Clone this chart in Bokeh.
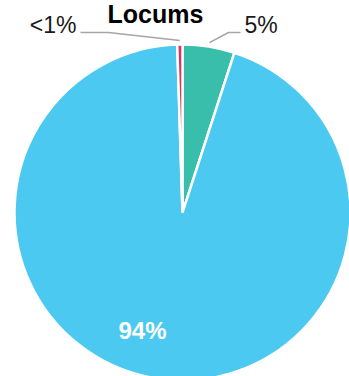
import math
from bokeh.plotting import figure
from bokeh.models import Range1d, ColumnDataSource
from bokeh.embed import file_html
from bokeh.resources import INLINE
from bokeh.core.properties import value

# ---- data ----
title_text = "Locums"
slice_names = ["5%", "94%", "<1%"]
slice_shares = [5.0, 94.5, 0.5]
slice_colors = ["#38BEAA", "#4BC9F0", "#DD3158"]

# ---- layout (screen pixel space, y measured downward) ----
W, H = 349, 376
CX, CY, R = 182, 212, 168
FONT = "Liberation Sans"


def sy(y):
    # screen y (downward) -> data y (upward)
    return H - y


p = figure(width=W, height=H, output_backend="svg", toolbar_location=None,
           x_range=Range1d(0, W), y_range=Range1d(0, H), min_border=0)
p.axis.visible = False
p.grid.visible = False
p.outline_line_color = None
p.background_fill_color = "white"
p.border_fill_color = "white"

total = sum(slice_shares)
starts, ends, mids = [], [], []
a = math.pi / 2
for s in slice_shares:
    e = a - s / total * 2 * math.pi
    starts.append(a)
    ends.append(e)
    mids.append((a + e) / 2)
    a = e

src = ColumnDataSource(dict(start=starts, end=ends, color=slice_colors, name=slice_names))
p.wedge(x=CX, y=sy(CY), radius=R, start_angle="start", end_angle="end",
        direction="clock", fill_color="color", line_color="white", line_width=2.5,
        source=src)


def label(x, y_cap_mid, txt, size, color, align, bold=False):
    p.text(x=[x], y=[sy(y_cap_mid)], text=[txt], text_font=value(FONT),
           text_font_size=f"{size}px", text_font_style="bold" if bold else "normal",
           text_color=color, text_align=align, text_baseline="middle")


# leader lines for the small slices
LEAD = "#A6A6A6"
# green slice (index 0) -> label to the upper right
m = mids[0]
x0, y0 = CX + (R + 4) * math.cos(m), CY - (R + 4) * math.sin(m)
p.line([x0, 228, 240], [sy(y0), sy(32), sy(32)], line_color=LEAD, line_width=1.6)
label(244, 24, slice_names[0], 23, "#1a1a1a", "left")

# red slice (index 2) -> label to the upper left
m = mids[2]
x0, y0 = CX + (R + 4) * math.cos(m), CY - (R + 4) * math.sin(m)
p.line([x0, 108, 80], [sy(y0), sy(32), sy(32)], line_color=LEAD, line_width=1.6)
label(76, 24, slice_names[2], 23, "#1a1a1a", "right")

# big slice label inside
label(142, 330, slice_names[1], 24, "white", "center", bold=True)

# title
label(155, 13, title_text, 25, "#000000", "center", bold=True)

open("out.html", "w").write(file_html(p, INLINE))
